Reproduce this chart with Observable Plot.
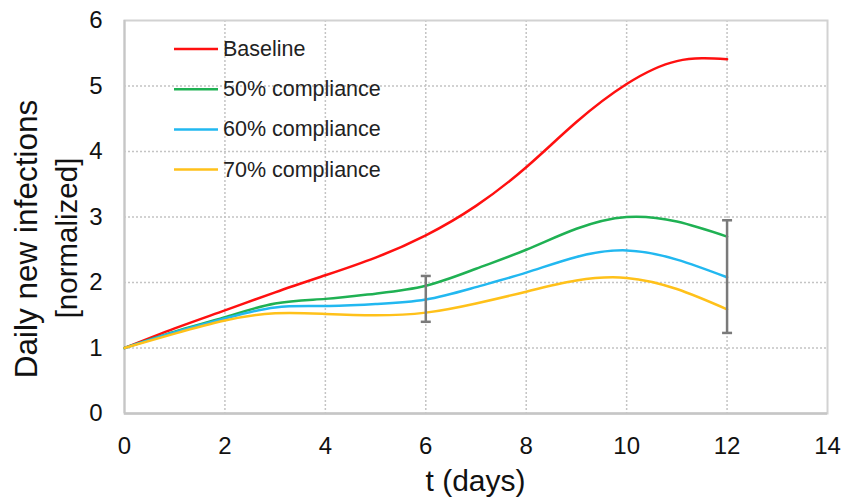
<!DOCTYPE html>
<html>
<head>
<meta charset="utf-8">
<script src="https://cdn.jsdelivr.net/npm/d3@7"></script>
<script src="https://cdn.jsdelivr.net/npm/@observablehq/plot@0.6"></script>
<style>
  html, body { margin: 0; padding: 0; background: #fff; }
  #chart { width: 845px; height: 499px; }
</style>
</head>
<body>
<div id="chart"></div>
<script>
// ---- data ----
const days = [0, 1, 2, 3, 4, 5, 6, 7, 8, 9, 10, 11, 12];
const baseline      = [1, 1.30, 1.575, 1.85, 2.11, 2.38, 2.72, 3.17, 3.76, 4.45, 5.03, 5.38, 5.41];
const compliance50  = [1, 1.25, 1.47, 1.68, 1.75, 1.83, 1.95, 2.21, 2.50, 2.82, 3.00, 2.93, 2.70];
const compliance60  = [1, 1.24, 1.45, 1.62, 1.64, 1.67, 1.74, 1.93, 2.15, 2.39, 2.49, 2.35, 2.08];
const compliance70  = [1, 1.22, 1.42, 1.53, 1.52, 1.50, 1.54, 1.68, 1.86, 2.03, 2.07, 1.90, 1.59];
const seriesNames   = ["Baseline", "50% compliance", "60% compliance", "70% compliance"];
const seriesColors  = ["#ff1010", "#1fb153", "#22b8f0", "#ffc11a"];
const errDays = [6, 12];
const errLow  = [1.40, 1.23];
const errHigh = [2.10, 2.95];
const xTicks = [0, 2, 4, 6, 8, 10, 12, 14];
const yTicks = [0, 1, 2, 3, 4, 5, 6];
const xLabel = "t (days)";
const yLabel1 = "Daily new infections";
const yLabel2 = "[normalized]";

// ---- build tables ----
const seriesValues = [baseline, compliance50, compliance60, compliance70];
const rows = [];
seriesValues.forEach((vals, i) => {
  vals.forEach((v, j) => rows.push({series: seriesNames[i], t: days[j], v}));
});
const errs = errDays.map((t, i) => ({t, lo: errLow[i], hi: errHigh[i]}));

const cap = {draw(ctx) { ctx.moveTo(-5, 0); ctx.lineTo(5, 0); }};
const gridStyle = {stroke: "#c4c4c4", strokeOpacity: 1, strokeWidth: 1.5, strokeDasharray: "2,2"};

const plot = Plot.plot({
  width: 845,
  height: 499,
  marginLeft: 124,
  marginRight: 18,
  marginTop: 20,
  marginBottom: 86,
  style: {fontFamily: "'Liberation Sans', Arial, sans-serif", background: "#fff", color: "#000"},
  x: {domain: [0, 14]},
  y: {domain: [0, 6]},
  color: {domain: seriesNames, range: seriesColors},
  marks: [
    Plot.gridX(xTicks.filter(d => d > 0 && d < 14), gridStyle),
    Plot.gridY(yTicks.filter(d => d > 0 && d < 6), gridStyle),
    Plot.frame({stroke: "#d2d2d2", strokeWidth: 2}),
    Plot.ruleX([0], {stroke: "#c6c6c6", strokeWidth: 2}),
    Plot.ruleY([0], {stroke: "#c6c6c6", strokeWidth: 2.5}),
    Plot.axisX({ticks: xTicks, tickSize: 0, tickPadding: 23, fontSize: 24, label: null, tickFormat: d => String(d), fill: "#111"}),
    Plot.axisY({ticks: yTicks, tickSize: 0, tickPadding: 22, fontSize: 24, label: null, tickFormat: d => String(d), fill: "#111"}),
    Plot.line(rows, {x: "t", y: "v", z: "series", stroke: "series", strokeWidth: 2.5, curve: "natural"}),
    Plot.ruleX(errs, {x: "t", y1: "lo", y2: "hi", stroke: "#7a7a7a", strokeWidth: 2.5}),
    Plot.dot(errs, {x: "t", y: "lo", symbol: cap, stroke: "#7a7a7a", strokeWidth: 2.5, fill: "none"}),
    Plot.dot(errs, {x: "t", y: "hi", symbol: cap, stroke: "#7a7a7a", strokeWidth: 2.5, fill: "none"})
  ]
});

const svg = d3.select(plot);
// axis titles
svg.append("text")
  .attr("x", 475.5).attr("y", 491)
  .attr("text-anchor", "middle")
  .attr("font-size", 30)
  .attr("fill", "#111")
  .text(xLabel);
svg.append("text")
  .attr("transform", "translate(26,239) rotate(-90)")
  .attr("text-anchor", "middle")
  .attr("dominant-baseline", "central")
  .attr("font-size", 31.5)
  .attr("fill", "#111")
  .text(yLabel1);
svg.append("text")
  .attr("transform", "translate(66,238) rotate(-90)")
  .attr("text-anchor", "middle")
  .attr("dominant-baseline", "central")
  .attr("font-size", 29.5)
  .attr("fill", "#111")
  .text(yLabel2);

// legend inside plot area
const legend = svg.append("g");
seriesNames.forEach((name, i) => {
  const y = 49 + i * 40.2;
  legend.append("line")
    .attr("x1", 174).attr("x2", 218).attr("y1", y).attr("y2", y)
    .attr("stroke", seriesColors[i]).attr("stroke-width", 2.5);
  legend.append("text")
    .attr("x", 223).attr("y", y)
    .attr("text-anchor", "start")
    .attr("dominant-baseline", "central")
    .attr("font-size", 21.5)
    .attr("fill", "#222")
    .text(name);
});

document.getElementById("chart").appendChild(plot);
</script>
</body>
</html>
